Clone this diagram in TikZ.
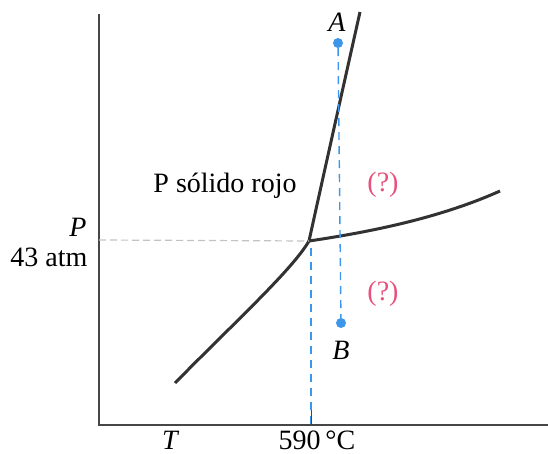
\documentclass[tikz,border=0pt]{standalone}
\usepackage{fontspec}
\setmainfont{Liberation Serif}
\usetikzlibrary{positioning,calc}
\definecolor{curvegray}{RGB}{50,50,50}
\definecolor{axisgray}{RGB}{70,70,70}
\definecolor{dashgray}{RGB}{195,195,195}
\definecolor{pointblue}{RGB}{60,150,235}
\definecolor{askpink}{RGB}{232,80,125}

\begin{document}
\begin{tikzpicture}[x=1pt,y=-1pt,font=\fontsize{28}{32}\selectfont,
  curve/.style={curvegray, line width=3pt},
  guide/.style={dashgray, line width=1.2pt, dash pattern=on 7pt off 4pt},
  path/.style={pointblue, line width=1.4pt, dash pattern=on 8pt off 6pt},
  dot/.style={circle, fill=pointblue, inner sep=0pt, minimum size=10pt},
  sym/.style={font=\fontsize{28}{32}\selectfont\itshape}]
\useasboundingbox (0,0) rectangle (548,454);
% axes
\coordinate (origin) at (99,425);
\coordinate (ytop) at (99,14);
\coordinate (xend) at (548,425);
\draw[axisgray, line width=2.2pt] (ytop) -- (origin) -- (xend);
% triple point and phase boundaries
\coordinate (tp) at (309,241);
\coordinate (low) at (175,383);
\coordinate (high) at (360,12);
\coordinate (right) at (500,191);
\draw[curve] (low) .. controls (235,322) and (292,270) .. (tp);
\draw[curve] (tp) .. controls (318,200) and (338,110) .. (high);
\draw[curve] (tp) .. controls (370,232) and (440,218) .. (right);
% reading lines
\coordinate (ptick) at (99,240);
\coordinate (ttick) at (311,425);
\coordinate (tbase) at (311,248);
\draw[guide] (ptick) -- (tp);
\draw[path] (tbase) -- (ttick);
\draw[axisgray, line width=1pt] (311,410) -- (ttick);
% states A and B
\node[dot] (ptA) at (338,43) {};
\node[dot] (ptB) at (341,323) {};
\draw[path] (ptA) -- (ptB);
\node[sym] (labA) at (337,22) {A};
\node[sym] (labB) at (341,350) {B};
% labels
\node (phase) at (225,186) {P sólido rojo};
\node[askpink] (q1) at (383,185) {(?)};
\node[askpink] (q2) at (383,294) {(?)};
\node[sym, anchor=east] (labP) at (90,227) {P};
\node[anchor=east] (p43) at (91,257) {43 atm};
\node[sym, inner sep=0pt] (labT) at (170,440) {T};
\node[inner sep=0pt] (t590) at (317,440) {590\,°C};
\end{tikzpicture}
\end{document}
